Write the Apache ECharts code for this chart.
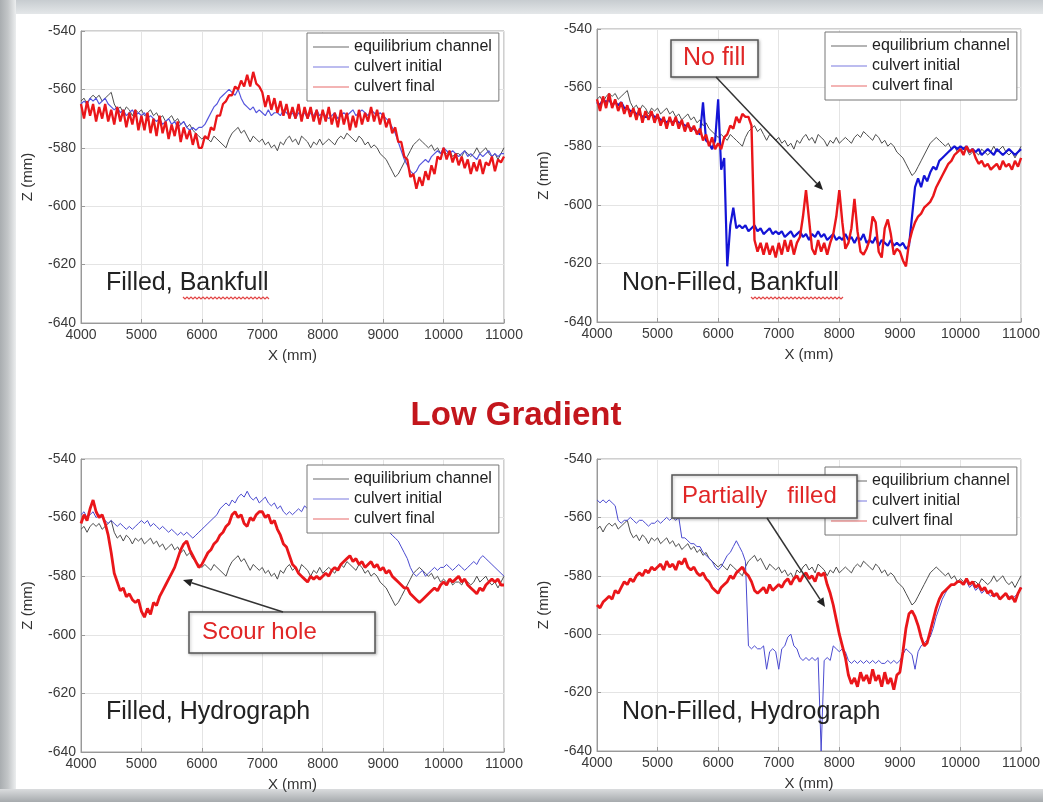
<!DOCTYPE html>
<html>
<head>
<meta charset="utf-8">
<script src="https://cdn.jsdelivr.net/npm/echarts@6/dist/echarts.min.js"></script>
<style>
html,body{margin:0;padding:0;background:#fff;}
#c{width:1043px;height:802px;}
</style>
</head>
<body>
<div id="c"></div>
<script>
// ---- DATA (profiles sampled every 50 mm from X = 4000 to 11000 mm) ----
const xStart = 4000, xStep = 50;
const seriesNames = ['equilibrium channel', 'culvert initial', 'culvert final'];
const panelTitles = ['Filled, Bankfull', 'Non-Filled, Bankfull', 'Filled, Hydrograph', 'Non-Filled, Hydrograph'];
const mainTitle = 'Low Gradient';
const notes = ['No fill', 'Scour hole', 'Partially   filled'];

const equilibrium = [
-564,-563,-565,-563,-562,-563,-562,-564,-563,-562,-561,-565,-567,-566,-568,-566,-567,-569,-567,-568,
-567,-569,-568,-567,-569,-568,-570,-569,-571,-570,-569,-571,-570,-572,-571,-573,-572,-574,-575,-576,
-577,-576,-577,-578,-576,-577,-578,-579,-580,-577,-575,-574,-573,-575,-574,-576,-578,-576,-577,-578,
-577,-579,-578,-580,-579,-581,-578,-579,-577,-576,-578,-577,-579,-576,-577,-578,-580,-578,-579,-577,
-579,-578,-577,-578,-579,-577,-576,-577,-575,-576,-577,-578,-576,-577,-579,-578,-580,-579,-580,-582,
-583,-584,-586,-588,-590,-589,-587,-585,-583,-581,-579,-578,-577,-578,-579,-580,-579,-581,-580,-582,
-581,-582,-581,-583,-582,-582,-583,-581,-582,-583,-582,-580,-582,-581,-580,-582,-583,-582,-584,-582,
-580];

// Panel 1: Filled, Bankfull
const p1Initial = [
-565,-564,-565,-563,-564,-563,-565,-564,-563,-565,-566,-567,-566,-568,-567,-569,-568,-567,-569,-568,
-569,-568,-570,-569,-570,-571,-570,-572,-571,-570,-572,-571,-573,-572,-571,-573,-574,-573,-574,-573,
-573,-572,-570,-568,-566,-565,-563,-562,-561,-560,-561,-562,-560,-563,-565,-566,-567,-566,-568,-567,
-568,-569,-567,-569,-568,-568,-569,-567,-568,-569,-568,-570,-568,-569,-568,-570,-568,-569,-567,-569,
-568,-569,-570,-569,-568,-570,-569,-568,-569,-568,-567,-569,-568,-567,-568,-569,-567,-568,-569,-568,
-569,-570,-571,-573,-575,-578,-581,-584,-586,-588,-589,-588,-586,-585,-584,-585,-583,-582,-581,-582,
-580,-581,-582,-581,-582,-583,-582,-581,-583,-582,-583,-584,-582,-583,-582,-581,-583,-582,-583,-582,
-582];
const p1Final = [
-565,-570,-564,-569,-565,-571,-566,-570,-565,-571,-567,-572,-566,-571,-567,-573,-568,-572,-567,-574,
-569,-574,-568,-575,-570,-576,-569,-575,-571,-577,-572,-576,-571,-578,-573,-577,-574,-579,-575,-580,
-580,-576,-577,-573,-574,-569,-569,-565,-564,-562,-562,-559,-560,-557,-559,-555,-559,-554,-558,-559,
-561,-566,-562,-567,-563,-568,-564,-569,-565,-570,-566,-570,-565,-571,-566,-570,-566,-571,-567,-572,
-567,-571,-566,-572,-568,-573,-567,-572,-568,-574,-569,-573,-567,-572,-568,-571,-566,-571,-567,-572,
-568,-573,-570,-575,-573,-578,-578,-583,-584,-590,-589,-594,-590,-593,-588,-591,-586,-589,-583,-584,
-580,-584,-581,-585,-582,-586,-583,-587,-584,-589,-585,-588,-584,-589,-585,-586,-583,-588,-584,-585,
-583];

// Panel 2: Non-Filled, Bankfull
const p2Initial = [
-565,-566,-564,-565,-564,-566,-565,-566,-565,-567,-567,-568,-568,-569,-569,-570,-570,-570,-569,-570,
-570,-571,-571,-572,-571,-572,-571,-572,-572,-573,-573,-574,-574,-575,-576,-565,-578,-579,-581,-578,
-564,-588,-584,-621,-607,-601,-608,-607,-608,-607,-609,-608,-607,-609,-608,-610,-609,-608,-610,-609,
-610,-609,-611,-610,-609,-611,-610,-609,-611,-610,-612,-610,-611,-609,-611,-610,-612,-611,-610,-612,
-611,-612,-610,-612,-611,-613,-611,-612,-610,-613,-612,-613,-611,-614,-612,-613,-614,-612,-614,-613,
-614,-613,-615,-614,-604,-594,-591,-594,-590,-592,-589,-587,-588,-585,-584,-583,-582,-581,-580,-581,
-580,-581,-580,-582,-581,-582,-581,-583,-582,-581,-582,-583,-581,-582,-583,-582,-581,-582,-583,-582,
-581];
const p2Final = [
-564,-568,-563,-567,-562,-567,-564,-568,-565,-569,-566,-570,-567,-571,-567,-572,-568,-571,-568,-572,
-569,-573,-570,-574,-570,-573,-570,-574,-571,-575,-572,-575,-573,-576,-574,-578,-576,-580,-577,-581,
-579,-581,-577,-576,-573,-574,-570,-572,-569,-570,-570,-573,-612,-616,-613,-617,-613,-617,-614,-618,
-613,-617,-612,-616,-612,-617,-613,-611,-604,-595,-605,-615,-617,-612,-616,-613,-617,-613,-610,-604,
-595,-606,-615,-613,-608,-598,-609,-616,-617,-615,-612,-604,-606,-616,-618,-608,-605,-610,-617,-615,
-616,-619,-621,-613,-609,-606,-604,-603,-601,-600,-599,-597,-594,-592,-590,-588,-586,-585,-583,-582,
-581,-583,-580,-582,-581,-584,-586,-585,-587,-586,-588,-587,-586,-588,-585,-587,-586,-588,-585,-587,
-584];

// Panel 3: Filled, Hydrograph
const p3Initial = [
-559,-558,-560,-559,-558,-560,-559,-560,-561,-562,-561,-562,-563,-562,-563,-564,-563,-564,-563,-562,
-561,-562,-561,-563,-562,-563,-564,-563,-564,-565,-564,-565,-566,-565,-566,-565,-566,-567,-566,-565,
-564,-563,-562,-561,-560,-559,-557,-556,-555,-556,-554,-555,-553,-552,-553,-551,-553,-554,-553,-555,
-554,-553,-555,-556,-555,-557,-556,-558,-559,-558,-559,-558,-557,-558,-556,-557,-556,-557,-558,-559,
-560,-559,-561,-560,-559,-561,-560,-559,-560,-561,-560,-561,-562,-561,-562,-563,-562,-563,-562,-563,
-563,-564,-565,-566,-567,-568,-570,-572,-574,-577,-579,-580,-579,-578,-580,-579,-578,-577,-578,-577,
-577,-576,-577,-578,-577,-576,-577,-578,-577,-576,-575,-576,-574,-573,-574,-575,-576,-577,-578,-579,
-580];
const p3Final = [
-562,-559,-561,-557,-554,-558,-560,-559,-562,-566,-572,-579,-582,-585,-584,-587,-586,-588,-589,-588,
-592,-594,-591,-593,-589,-590,-587,-585,-583,-581,-579,-577,-574,-571,-569,-568,-571,-573,-575,-577,
-576,-574,-572,-571,-569,-568,-566,-565,-563,-562,-559,-558,-560,-559,-562,-563,-560,-561,-559,-558,
-558,-560,-559,-562,-561,-564,-566,-569,-570,-573,-576,-577,-579,-580,-581,-582,-580,-581,-580,-581,
-580,-579,-580,-578,-577,-578,-576,-575,-574,-573,-575,-574,-576,-575,-577,-576,-575,-577,-576,-578,
-577,-579,-578,-580,-581,-582,-583,-584,-584,-586,-587,-588,-589,-588,-587,-586,-585,-584,-585,-583,
-582,-583,-581,-582,-581,-580,-582,-581,-583,-584,-585,-586,-584,-585,-583,-582,-581,-582,-581,-583,
-583];

// Panel 4: Non-Filled, Hydrograph
const p4Initial = [
-554,-555,-554,-555,-554,-555,-556,-561,-562,-561,-561,-560,-561,-562,-561,-561,-562,-563,-562,-562,
-561,-562,-561,-560,-561,-560,-561,-560,-567,-567,-568,-569,-569,-570,-570,-572,-573,-574,-575,-577,
-578,-577,-575,-573,-572,-570,-568,-570,-572,-575,-604,-605,-604,-605,-605,-604,-612,-606,-605,-606,
-612,-605,-604,-601,-600,-604,-605,-608,-609,-608,-609,-608,-609,-608,-640,-609,-608,-609,-604,-605,
-606,-605,-606,-609,-610,-609,-610,-609,-610,-609,-610,-609,-610,-609,-610,-610,-609,-610,-609,-610,
-609,-607,-605,-606,-607,-612,-606,-604,-603,-602,-601,-598,-594,-591,-588,-586,-584,-583,-583,-582,
-582,-583,-582,-584,-583,-585,-584,-586,-585,-586,-587,-586,-587,-588,-587,-586,-587,-588,-587,-586,
-584];
const p4Final = [
-590,-591,-589,-588,-587,-588,-585,-586,-584,-582,-583,-581,-582,-580,-579,-580,-578,-579,-577,-578,
-577,-576,-578,-575,-577,-576,-578,-575,-576,-574,-577,-578,-577,-579,-580,-579,-581,-582,-584,-585,
-586,-584,-583,-582,-580,-581,-579,-578,-577,-579,-580,-582,-585,-586,-585,-584,-586,-583,-585,-584,
-583,-584,-582,-581,-583,-581,-580,-582,-580,-579,-581,-580,-582,-579,-580,-579,-583,-586,-590,-595,
-600,-604,-608,-614,-617,-615,-618,-613,-616,-614,-617,-612,-616,-614,-618,-613,-617,-615,-619,-614,
-613,-606,-598,-593,-592,-594,-597,-601,-604,-603,-599,-595,-591,-588,-586,-585,-584,-583,-583,-582,
-582,-583,-581,-583,-582,-584,-583,-585,-584,-586,-585,-587,-586,-588,-587,-586,-588,-587,-589,-586,
-584];

const panels = [
  {initial: p1Initial, final: p1Final},
  {initial: p2Initial, final: p2Final},
  {initial: p3Initial, final: p3Final},
  {initial: p4Initial, final: p4Final}
];

// ---- LAYOUT ----
const grids = [
  {left: 81, top: 31, width: 423, height: 292},
  {left: 597, top: 29, width: 428, height: 293},
  {left: 81, top: 459, width: 423, height: 293},
  {left: 597, top: 459, width: 428, height: 292}
];
const legendPos = [
  {left: 307, top: 33}, {left: 825, top: 32}, {left: 307, top: 465}, {left: 825, top: 467}
];
const blueStyles = [
  {color: '#5555dd', width: 1.2},
  {color: '#1414d6', width: 2.2},
  {color: '#4a4ad0', width: 1},
  {color: '#4a4ad0', width: 1}
];
const redWidths = [2.3, 2.4, 2.8, 2.8];
const FONT = '"Liberation Sans", Arial, sans-serif';

function toPairs(vals) { return vals.map((v, i) => [xStart + xStep * i, v]); }

const xAxes = [], yAxes = [], series = [], legends = [];
grids.forEach((g, k) => {
  xAxes.push({
    gridIndex: k, type: 'value', min: 4000, max: 11000, interval: 1000,
    name: 'X (mm)', nameLocation: 'middle', nameGap: 25,
    nameTextStyle: {fontSize: 15, color: '#333', fontFamily: 'Liberation Sans'},
    axisLine: {show: true, lineStyle: {color: '#999'}},
    axisTick: {show: true, inside: true, length: 4, lineStyle: {color: '#999'}},
    axisLabel: {fontSize: 14, color: '#3a3a3a', margin: 5, fontFamily: 'Liberation Sans', formatter: v => String(v)},
    splitLine: {show: true, lineStyle: {color: '#e4e4e4', width: 1}}
  });
  yAxes.push({
    gridIndex: k, type: 'value', min: -640, max: -540, interval: 20,
    name: 'Z (mm)', nameLocation: 'middle', nameGap: 46,
    nameTextStyle: {fontSize: 15, color: '#333', fontFamily: 'Liberation Sans'},
    axisLine: {show: true, lineStyle: {color: '#999'}},
    axisTick: {show: true, inside: true, length: 4, lineStyle: {color: '#999'}},
    axisLabel: {fontSize: 14, color: '#3a3a3a', margin: 5, fontFamily: 'Liberation Sans', formatter: v => String(v)},
    splitLine: {show: true, lineStyle: {color: '#e4e4e4', width: 1}}
  });
  series.push({
    name: seriesNames[0], type: 'line', xAxisIndex: k, yAxisIndex: k,
    data: toPairs(equilibrium), showSymbol: false, symbol: 'none', animation: false,
    lineStyle: {color: '#4d4d4d', width: 1}, itemStyle: {color: '#6a6a6a'}
  });
  series.push({
    name: seriesNames[1], type: 'line', xAxisIndex: k, yAxisIndex: k,
    data: toPairs(panels[k].initial), showSymbol: false, symbol: 'none', animation: false,
    lineStyle: {color: blueStyles[k].color, width: blueStyles[k].width}, itemStyle: {color: '#7a7ae0'}
  });
  series.push({
    name: seriesNames[2], type: 'line', xAxisIndex: k, yAxisIndex: k,
    data: toPairs(panels[k].final), showSymbol: false, symbol: 'none', animation: false,
    lineStyle: {color: '#ea161a', width: redWidths[k]}, itemStyle: {color: '#e86a6a'}
  });
  legends.push({
    data: seriesNames, orient: 'vertical',
    left: legendPos[k].left, top: legendPos[k].top,
    backgroundColor: '#fff', borderColor: '#777', borderWidth: 1,
    padding: [6, 7, 6, 6], itemGap: 4, itemWidth: 36, itemHeight: 1.2,
    icon: 'rect', selectedMode: false,
    textStyle: {fontSize: 16, lineHeight: 16, color: '#222', fontFamily: 'Liberation Sans'}
  });
});

// ---- ANNOTATIONS ----
function arrow(x1, y1, x2, y2) {
  const dx = x2 - x1, dy = y2 - y1, L = Math.hypot(dx, dy);
  const ux = dx / L, uy = dy / L, px = -uy, py = ux;
  const hl = 9, hw = 4;
  const bx = x2 - ux * hl, by = y2 - uy * hl;
  return [
    {type: 'line', z: 100, shape: {x1: x1, y1: y1, x2: bx, y2: by}, style: {stroke: '#333', lineWidth: 1.5}},
    {type: 'polygon', z: 100, shape: {points: [[x2, y2], [bx + px * hw, by + py * hw], [bx - px * hw, by - py * hw]]}, style: {fill: '#222'}}
  ];
}
function squiggle(x1, x2, y) {
  const pts = [];
  let up = true;
  for (let x = x1; x <= x2; x += 2) { pts.push([x, up ? y - 1 : y + 1]); up = !up; }
  return {type: 'polyline', z: 100, shape: {points: pts}, style: {stroke: '#e24545', lineWidth: 1.2, fill: null}};
}
function noteBox(x, y, w, h, text, fs, tx) {
  return [
    {type: 'rect', z: 100, shape: {x: x, y: y, width: w, height: h},
     style: {fill: '#fff', stroke: '#555', lineWidth: 1.5, shadowColor: 'rgba(0,0,0,0.25)', shadowBlur: 3, shadowOffsetX: 1, shadowOffsetY: 1}},
    {type: 'text', z: 101, x: tx, y: y + h / 2,
     style: {text: text, fill: '#e02626', font: fs + 'px ' + FONT, align: 'left', verticalAlign: 'middle'}}
  ];
}
function panelLabel(x, y, text) {
  return {type: 'text', z: 100, x: x, y: y,
    style: {text: text, fill: '#222', font: '25px ' + FONT, verticalAlign: 'top'}};
}

const graphics = [
  {type: 'rect', z: -10, shape: {x: 0, y: 0, width: 1043, height: 14},
   style: {fill: {type: 'linear', x: 0, y: 0, x2: 0, y2: 1, colorStops: [{offset: 0, color: '#c7ccd0'}, {offset: 1, color: '#e4e7e9'}]}}},
  {type: 'rect', z: -9, shape: {x: 0, y: 0, width: 16, height: 802},
   style: {fill: {type: 'linear', x: 0, y: 0, x2: 1, y2: 0, colorStops: [{offset: 0, color: '#a9adb0'}, {offset: 0.5, color: '#c3c6c8'}, {offset: 1, color: '#eceeef'}]}}},
  {type: 'rect', z: -8, shape: {x: 0, y: 789, width: 1043, height: 13},
   style: {fill: {type: 'linear', x: 0, y: 0, x2: 0, y2: 1, colorStops: [{offset: 0, color: '#dadcde'}, {offset: 1, color: '#a6aaad'}]}}},
  {type: 'text', z: 100, x: 516, y: 416,
   style: {text: mainTitle, fill: '#c3161c', font: 'bold 33px ' + FONT, align: 'center', verticalAlign: 'middle'}},
  panelLabel(106, 271, panelTitles[0]),
  panelLabel(622, 271, panelTitles[1]),
  panelLabel(106, 700, panelTitles[2]),
  panelLabel(622, 700, panelTitles[3]),
  squiggle(183, 270, 298),
  squiggle(751, 843, 298),
  ...noteBox(671, 40, 87, 37, notes[0], 25, 683),
  ...arrow(716, 77, 823, 190),
  ...noteBox(189, 612, 186, 41, notes[1], 24, 202),
  ...arrow(283, 612, 183, 580),
  ...noteBox(672, 475, 185, 43, notes[2], 24, 682),
  ...arrow(767, 518, 825, 607)
];

const chart = echarts.init(document.getElementById('c'), null, {renderer: 'canvas'});
chart.setOption({
  backgroundColor: '#ffffff',
  animation: false,
  grid: grids.map(g => Object.assign({show: true, borderColor: '#a0a0a0', borderWidth: 1, backgroundColor: 'transparent'}, g)),
  xAxis: xAxes,
  yAxis: yAxes,
  legend: legends,
  series: series,
  graphic: graphics
});
</script>
</body>
</html>
